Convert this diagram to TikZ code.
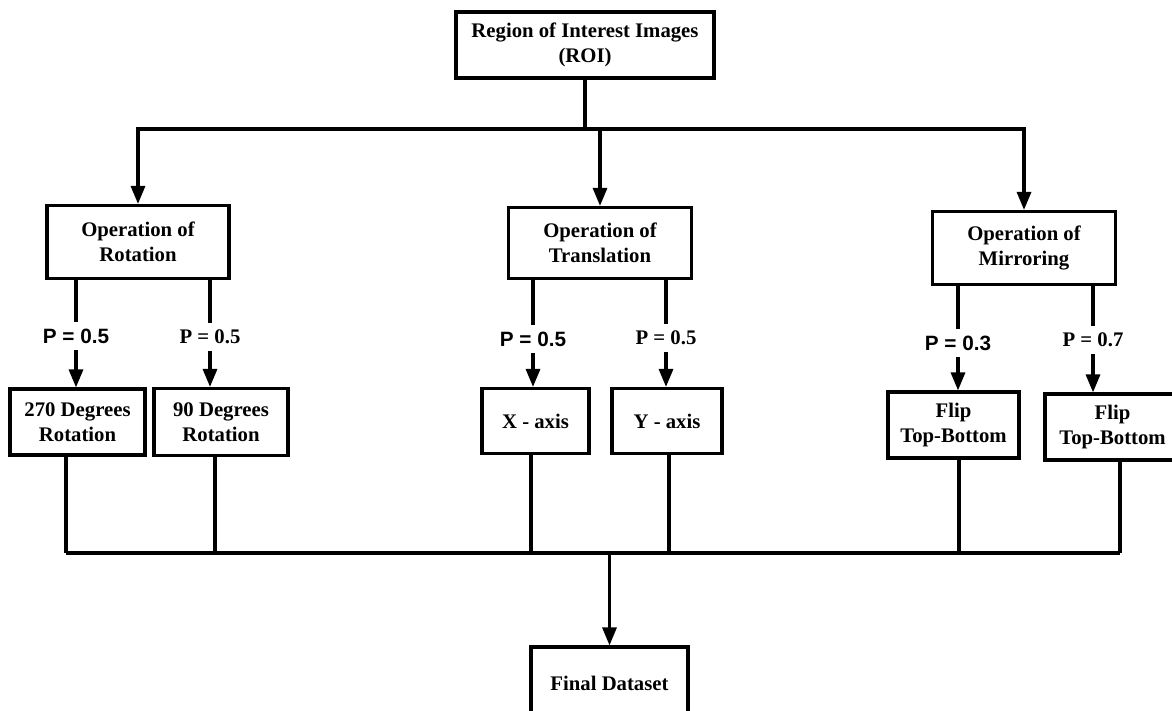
\documentclass[tikz,border=0pt]{standalone}
\usepackage{fontspec}
\setmainfont{Liberation Serif}
\setsansfont{Liberation Sans}
\usepackage{tikz}
\usetikzlibrary{arrows.meta}

\begin{document}
\begin{tikzpicture}[x=0.02cm,y=-0.02cm,
	box/.style={draw=black,fill=white,line width=1.8pt,align=center,inner sep=0pt,
		font=\fontsize{11.8}{14.5}\selectfont\bfseries},
	plab/.style={inner sep=0pt,minimum height=0.56cm,font=\fontsize{11.8}{14}\selectfont\bfseries},
	link/.style={line width=1.8pt},
	arr/.style={line width=1.8pt,-{Triangle[width=0.28cm,length=0.36cm]}}]

	\useasboundingbox (0,0) rectangle (1172,710);

	\node[box,minimum width=5.16cm,minimum height=1.32cm] (roi) at (585, 45)  {Region of Interest Images\\(ROI)};
	\node[box,minimum width=3.64cm,minimum height=1.46cm] (rot) at (138, 242) {Operation of\\Rotation};
	\node[box,minimum width=3.66cm,minimum height=1.42cm] (tra) at (600, 243) {Operation of\\Translation};
	\node[box,minimum width=3.66cm,minimum height=1.46cm] (mir) at (1024, 248) {Operation of\\Mirroring};

	\node[box,minimum width=2.70cm,minimum height=1.32cm] (d270) at (77.5, 422) {270 Degrees\\Rotation};
	\node[box,minimum width=2.68cm,minimum height=1.34cm] (d90)  at (221, 422)  {90 Degrees\\Rotation};
	\node[box,minimum width=2.14cm,minimum height=1.30cm] (xax)  at (535.5, 421) {X - axis};
	\node[box,minimum width=2.20cm,minimum height=1.30cm] (yax)  at (667, 421)  {Y - axis};
	\node[box,minimum width=2.62cm,minimum height=1.32cm] (flpa) at (953.5, 425) {Flip\\Top-Bottom};
	\node[box,minimum width=2.70cm,minimum height=1.32cm] (flpb) at (1112.5, 427) {Flip\\Top-Bottom};

	\node[box,minimum width=3.14cm,minimum height=1.44cm] (final) at (609.5, 683) {Final Dataset};

	% probability labels
	\node[plab,font=\fontsize{11.8}{14}\selectfont\sffamily\bfseries] (pa) at (76, 336)  {P = 0.5};
	\node[plab] (pb) at (210, 337)  {P = 0.5};
	\node[plab,font=\fontsize{11.8}{14}\selectfont\sffamily\bfseries] (pc) at (533, 339)  {P = 0.5};
	\node[plab] (pd) at (666, 338)  {P = 0.5};
	\node[plab,font=\fontsize{11.8}{14}\selectfont\sffamily\bfseries] (pe) at (958, 343)  {P = 0.3};
	\node[plab] (pf) at (1093, 340) {P = 0.7};

	\coordinate (top) at (585, 129);
	\coordinate (j1) at (66, 553);
	\coordinate (j2) at (215, 553);
	\coordinate (j3) at (531, 553);
	\coordinate (j4) at (669, 553);
	\coordinate (j5) at (959, 553);
	\coordinate (j6) at (1120, 553);

	% top split
	\draw[link] (roi) -- (top);
	\draw[arr] (top) -| (rot.north);
	\draw[arr] (top) -| (mir.north);
	\draw[arr] (tra.north |- top) -- (tra.north);

	% branches
	\draw[link] (rot.south -| pa) -- (pa.north);
	\draw[arr]  (pa.south) -- (pa.south |- d270.north);
	\draw[link] (rot.south -| pb) -- (pb.north);
	\draw[arr]  (pb.south) -- (pb.south |- d90.north);
	\draw[link] (tra.south -| pc) -- (pc.north);
	\draw[arr]  (pc.south) -- (pc.south |- xax.north);
	\draw[link] (tra.south -| pd) -- (pd.north);
	\draw[arr]  (pd.south) -- (pd.south |- yax.north);
	\draw[link] (mir.south -| pe) -- (pe.north);
	\draw[arr]  (pe.south) -- (pe.south |- flpa.north);
	\draw[link] (mir.south -| pf) -- (pf.north);
	\draw[arr]  (pf.south) -- (pf.south |- flpb.north);

	% merge
	\draw[link] (j1 |- d270.south) -- (j1);
	\draw[link] (j2 |- d90.south) -- (j2);
	\draw[link] (j3 |- xax.south) -- (j3);
	\draw[link] (j4 |- yax.south) -- (j4);
	\draw[link] (j5 |- flpa.south) -- (j5);
	\draw[link] (j6 |- flpb.south) -- (j6);
	\draw[link] (j1) -- (j6);
	\draw[arr] (final.north |- j1) -- (final.north);

\end{tikzpicture}
\end{document}
